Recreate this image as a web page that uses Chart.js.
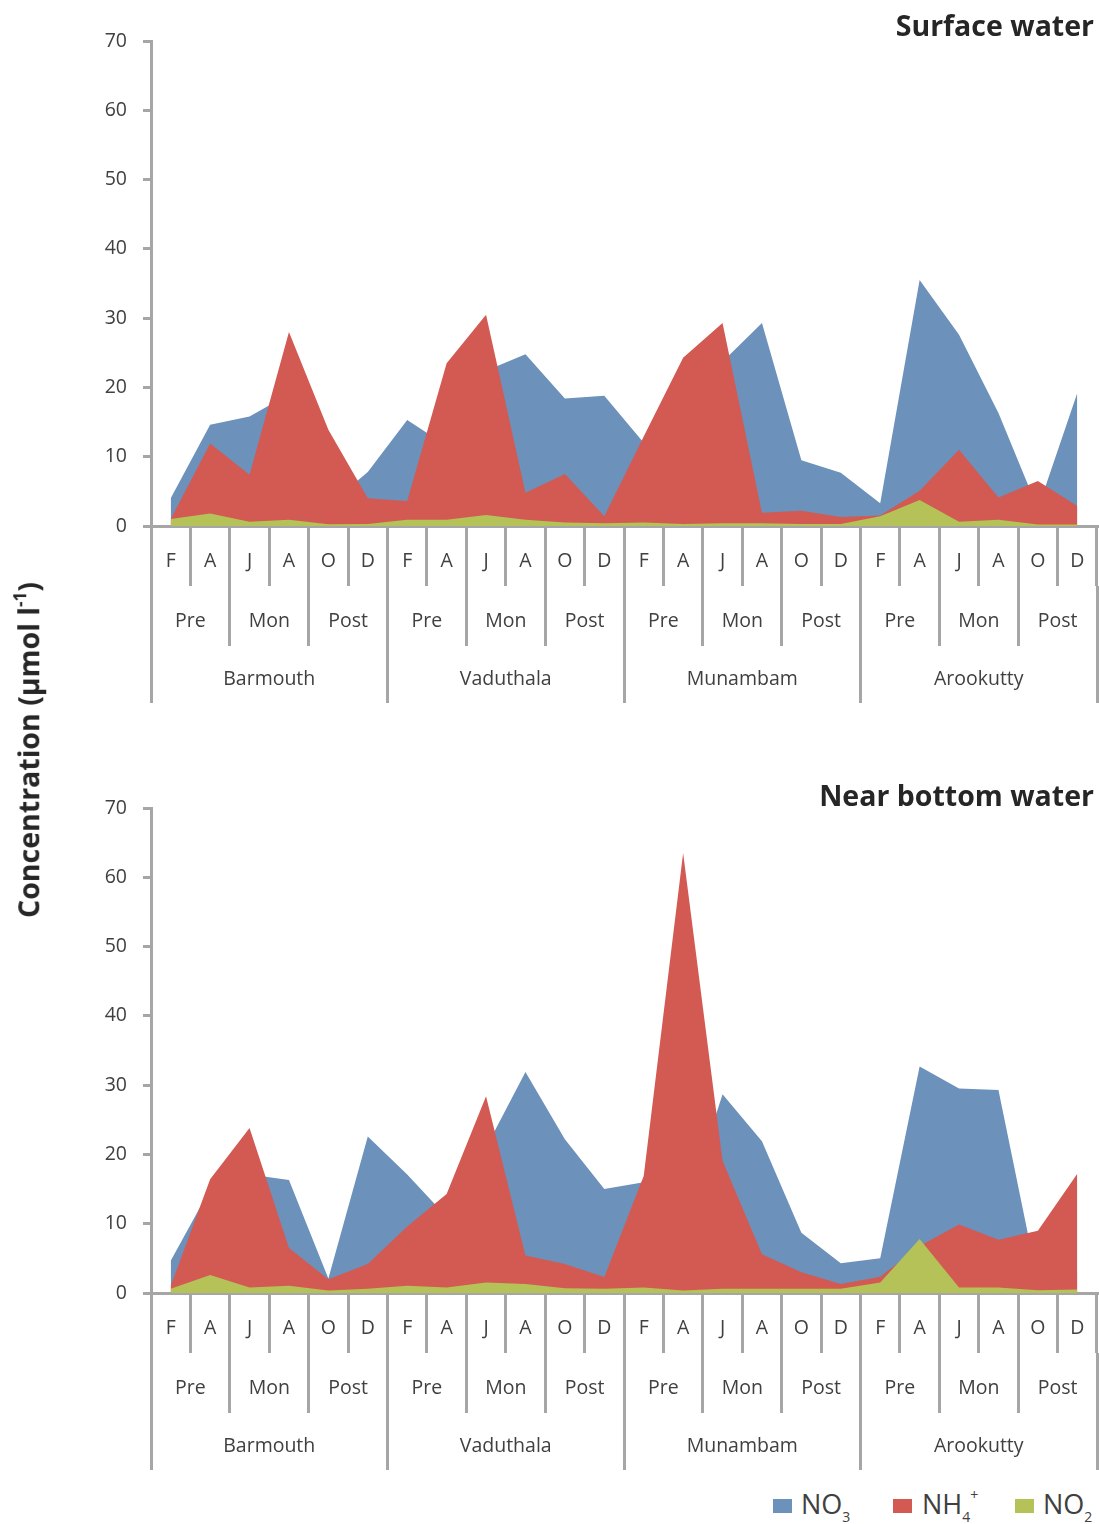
<!DOCTYPE html>
<html>
<head>
<meta charset="utf-8">
<script src="https://cdn.jsdelivr.net/npm/chart.js@4.4.1/dist/chart.umd.min.js"></script>
<style>
  html, body { margin: 0; padding: 0; background: #fff; }
  body { width: 1099px; height: 1524px; position: relative; overflow: hidden; font-family: "Open Sans", sans-serif; color: #404040; }
  canvas { position: absolute; left: 0; }
  #surface { top: 0; }
  #bottom { top: 767px; }
  .panel-title { position: absolute; right: 5px; font-weight: bold; font-size: 28.5px; line-height: 32px; color: #262626; white-space: nowrap; }
  #ytitle { position: absolute; left: 25px; top: 750px; transform: translate(-50%, -50%) rotate(-90deg); white-space: nowrap; font-weight: bold; font-size: 28.5px; line-height: 32px; color: #262626; }
  #ytitle sup { font-size: 17px; position: relative; top: -2px; }
  .key { position: absolute; top: 1499px; width: 19px; height: 14px; }
  .key-text { position: absolute; top: 1489px; font-size: 27px; line-height: 30px; color: #404040; white-space: nowrap; }
  .key-text sub { font-size: 14px; vertical-align: baseline; position: relative; top: 8px; }
  .key-text sup { font-size: 14px; vertical-align: baseline; position: relative; top: -14px; }
</style>
</head>
<body>
<canvas id="surface" width="1099" height="715"></canvas>
<canvas id="bottom" width="1099" height="715"></canvas>

<div class="panel-title" style="top:9px">Surface water</div>
<div class="panel-title" style="top:779px">Near bottom water</div>
<div id="ytitle">Concentration (µmol l<sup>-1</sup>)</div>

<div class="key" style="left:773px;background:#6c91ba"></div>
<div class="key-text" style="left:801px">NO<sub>3</sub></div>
<div class="key" style="left:893px;background:#d25a53"></div>
<div class="key-text" style="left:922px">NH<sub>4</sub><sup>+</sup></div>
<div class="key" style="left:1015px;background:#b5c257"></div>
<div class="key-text" style="left:1043px">NO<sub>2</sub></div>

<script>
// Sampling months, seasons and stations (three-level category axis)
const months = ['F','A','J','A','O','D', 'F','A','J','A','O','D', 'F','A','J','A','O','D', 'F','A','J','A','O','D'];
const seasons = ['Pre','Mon','Post', 'Pre','Mon','Post', 'Pre','Mon','Post', 'Pre','Mon','Post'];
const stations = ['Barmouth','Vaduthala','Munambam','Arookutty'];
const yTicks = [0, 10, 20, 30, 40, 50, 60, 70];

// Surface water concentrations (µmol l-1)
const surfaceNO3 = [4.0, 14.6, 15.8, 19.0, 3.0, 7.8, 15.3, 11.6, 22.4, 24.8, 18.4, 18.8, 12.0, 20.0, 23.7, 29.3, 9.5, 7.7, 3.3, 35.5, 27.6, 16.3, 2.5, 19.2];
const surfaceNH4 = [1.0, 11.9, 7.4, 28.0, 13.9, 4.0, 3.6, 23.5, 30.5, 4.8, 7.5, 1.4, 12.9, 24.3, 29.3, 1.9, 2.2, 1.3, 1.5, 5.1, 11.0, 4.1, 6.5, 2.9];
const surfaceNO2 = [1.0, 1.8, 0.6, 0.9, 0.25, 0.3, 0.9, 0.9, 1.6, 0.9, 0.5, 0.4, 0.5, 0.3, 0.4, 0.4, 0.3, 0.3, 1.4, 3.75, 0.6, 0.9, 0.2, 0.2];

// Near bottom water concentrations (µmol l-1)
const bottomNO3 = [4.65, 15.0, 17.1, 16.3, 2.1, 22.6, 17.1, 11.0, 21.0, 31.9, 22.2, 15.0, 16.0, 11.0, 28.7, 21.9, 8.7, 4.3, 5.0, 32.7, 29.5, 29.3, 1.5, 3.0];
const bottomNH4 = [1.0, 16.4, 23.8, 6.5, 2.0, 4.2, 9.6, 14.3, 28.4, 5.4, 4.2, 2.3, 16.9, 63.5, 19.1, 5.6, 3.0, 1.3, 2.35, 6.8, 9.9, 7.7, 9.0, 17.2];
const bottomNO2 = [0.6, 2.6, 0.8, 1.05, 0.35, 0.6, 1.05, 0.8, 1.5, 1.3, 0.7, 0.6, 0.8, 0.35, 0.6, 0.6, 0.6, 0.6, 1.5, 7.8, 0.8, 0.8, 0.4, 0.5];

const BLUE = '#6c91ba';
const RED = '#d25a53';
const GREEN = '#b5c257';
const AXIS = '#a6a6a6';
const TEXT = '#404040';
const FONT = { family: '"Open Sans", sans-serif', size: 19.5 };

// One category axis level; its tick marks act as the group separators
function levelAxis(weight, labels, rowHeight, labelOffset, withBorder) {
  const axis = {
    type: 'category',
    axis: 'x',
    position: 'bottom',
    weight: weight,
    offset: true,
    z: 1,
    grid: { offset: true, drawOnChartArea: false, drawTicks: true, tickLength: rowHeight, color: AXIS, lineWidth: 3 },
    border: withBorder ? { display: true, color: AXIS, width: 3 } : { display: false },
    ticks: { autoSkip: false, maxRotation: 0, minRotation: 0, color: TEXT, font: FONT,
             padding: labelOffset - rowHeight - FONT.size * 0.6 },
    afterFit: s => { s.height = rowHeight; }
  };
  if (labels) axis.labels = labels;
  return axis;
}

function drawPanel(id, no3, nh4, no2) {
  new Chart(document.getElementById(id), {
    type: 'line',
    data: {
      labels: months,
      datasets: [
        { label: 'NO3', data: no3, backgroundColor: BLUE, borderColor: 'rgba(0,0,0,0)', borderWidth: 0, fill: 'origin', order: 3 },
        { label: 'NH4+', data: nh4, backgroundColor: RED, borderColor: 'rgba(0,0,0,0)', borderWidth: 0, fill: 'origin', order: 2 },
        { label: 'NO2', data: no2, backgroundColor: GREEN, borderColor: 'rgba(0,0,0,0)', borderWidth: 0, fill: 'origin', order: 1 }
      ]
    },
    options: {
      responsive: false,
      animation: false,
      devicePixelRatio: 1,
      layout: { padding: { top: 41, right: 2, bottom: 12, left: 0 } },
      elements: { line: { tension: 0 }, point: { radius: 0, hoverRadius: 0 } },
      plugins: { legend: { display: false }, tooltip: { enabled: false }, title: { display: false } },
      scales: {
        y: {
          min: 0, max: 70,
          afterBuildTicks: s => { s.ticks = yTicks.map(v => ({ value: v })); },
          ticks: { color: TEXT, font: FONT, padding: 16 },
          grid: { drawOnChartArea: false, tickLength: 8, color: AXIS, lineWidth: 3 },
          border: { color: AXIS, width: 3 },
          afterFit: s => { s.width = 151; }
        },
        x: levelAxis(0, null, 60, 35, true),
        xSeason: levelAxis(1, seasons, 60, 35, false),
        xStation: levelAxis(2, stations, 57, 33, false)
      }
    }
  });
}

drawPanel('surface', surfaceNO3, surfaceNH4, surfaceNO2);
drawPanel('bottom', bottomNO3, bottomNH4, bottomNO2);
</script>
</body>
</html>
